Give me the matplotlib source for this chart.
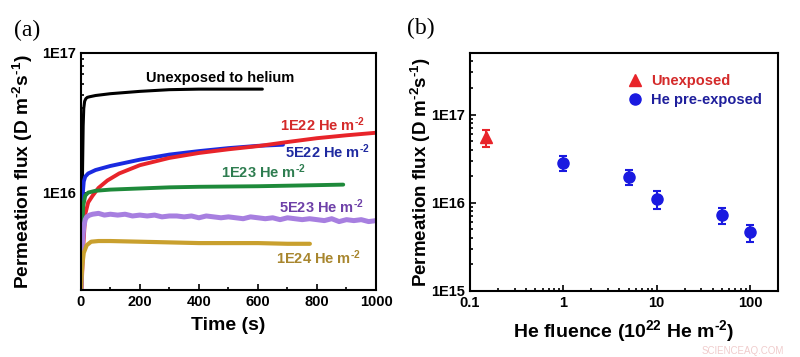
import numpy as np
import matplotlib
matplotlib.use('Agg')
import matplotlib.pyplot as plt
from matplotlib.lines import Line2D
from matplotlib.ticker import FixedLocator, FuncFormatter, MultipleLocator, LogLocator, NullFormatter

#panel (a) data, time in s, flux in units of 1E16 D m-2 s-1
t_black = [0, 4, 6, 8, 10, 13, 17, 22, 30, 50, 100, 200, 300, 400, 500, 615]
f_black = [0.15, 0.6, 1.5, 3.0, 4.0, 4.5, 4.7, 4.8, 4.85, 4.95, 5.1, 5.3, 5.45, 5.5, 5.5, 5.5]

t_red = [0, 8, 15, 25, 40, 60, 90, 130, 200, 300, 400, 500, 600, 700, 800, 900, 1000]
f_red = [0.15, 0.4, 0.7, 0.85, 0.95, 1.08, 1.22, 1.37, 1.57, 1.77, 1.92, 2.04, 2.15, 2.3, 2.45, 2.57, 2.68]

t_blue = [0, 4, 7, 10, 15, 25, 50, 100, 200, 300, 400, 500, 600, 685]
f_blue = [0.15, 0.5, 1.0, 1.2, 1.3, 1.37, 1.45, 1.55, 1.72, 1.87, 1.98, 2.08, 2.16, 2.2]

t_green = [0, 4, 8, 15, 25, 50, 100, 200, 300, 400, 600, 800, 889]
f_green = [0.15, 0.5, 0.8, 0.95, 1.0, 1.03, 1.05, 1.07, 1.09, 1.1, 1.11, 1.13, 1.14]

t_purple = [0, 3, 6, 10, 15, 20, 30, 40, 60, 80, 100, 125, 150, 175, 200, 225, 250, 275, 300, 325,
            350, 375, 400, 425, 450, 475, 500, 525, 550, 575, 600, 625, 650, 675, 700, 725, 750, 775,
            800, 825, 850, 875, 900, 925, 950, 975, 1000]
f_purple = [0.2, 0.3, 0.45, 0.57, 0.64, 0.67, 0.69, 0.70, 0.71, 0.69, 0.70, 0.69, 0.70, 0.68, 0.69, 0.68,
            0.69, 0.67, 0.68, 0.68, 0.67, 0.68, 0.66, 0.68, 0.67, 0.66, 0.67, 0.66, 0.65, 0.67, 0.66, 0.65,
            0.66, 0.64, 0.66, 0.65, 0.64, 0.65, 0.64, 0.63, 0.65, 0.62, 0.64, 0.63, 0.64, 0.62, 0.63]

t_gold = [0, 5, 10, 20, 35, 60, 100, 200, 300, 400, 500, 600, 700, 776]
f_gold = [0.2, 0.3, 0.37, 0.42, 0.445, 0.45, 0.45, 0.445, 0.44, 0.435, 0.435, 0.435, 0.43, 0.43]

#panel (b) data, fluence in 1E22 He m-2
x_unexp = [0.15]
y_unexp = [5.5e16]
e_unexp = [1.2e16]
x_pre = [1, 5, 10, 50, 100]
y_pre = [2.85e16, 1.97e16, 1.11e16, 7.3e15, 4.6e15]
e_pre = [0.55e16, 0.4e16, 0.25e16, 1.5e15, 1.0e15]

plt.rcParams['font.family'] = 'Liberation Sans'
plt.rcParams['font.weight'] = 'bold'
plt.rcParams['mathtext.fontset'] = 'custom'
plt.rcParams['mathtext.rm'] = 'Liberation Sans:bold'
plt.rcParams['mathtext.bf'] = 'Liberation Sans:bold'
plt.rcParams['mathtext.default'] = 'bf'

fig = plt.figure(figsize=(8, 3.57), dpi=100)
ax1 = fig.add_axes([0.101, 0.187, 0.369, 0.665])
ax2 = fig.add_axes([0.5875, 0.185, 0.385, 0.667])

ylab = 'Permeation flux (D m$^{\\text{-2}}$s$^{\\text{-1}}$)'
unit = ' He m$^{\\text{-2}}$'

#curves
curves = [(t_black, f_black, 'black', 2.2),
          (t_blue, f_blue, '#1a2ae0', 2.8),
          (t_red, f_red, '#e8242a', 2.8),
          (t_green, f_green, '#1e8a3a', 2.8),
          (t_purple, f_purple, '#a77fe0', 3.6),
          (t_gold, f_gold, '#c9a02e', 3.0)]
for t, f, c, lw in curves:
    ax1.plot(t, np.array(f) * 1e16, color=c, lw=lw, solid_capstyle='round')

ax1.set_yscale('log')
ax1.set_xlim(0, 1000)
ax1.set_ylim(2.0e15, 1e17)
ax1.xaxis.set_major_locator(MultipleLocator(200))
ax1.xaxis.set_minor_locator(MultipleLocator(100))
ax1.yaxis.set_major_locator(FixedLocator([1e16, 1e17]))
ax1.yaxis.set_major_formatter(FuncFormatter(lambda v, p: '1E%d' % round(np.log10(v))))
ax1.yaxis.set_minor_locator(LogLocator(base=10, subs=np.arange(2, 10)))
ax1.yaxis.set_minor_formatter(NullFormatter())
ax1.set_xlabel('Time (s)', fontsize=14, fontweight='bold', labelpad=6)
ax1.set_ylabel(ylab, fontsize=13.8, fontweight='bold')
ax1.yaxis.set_label_coords(-0.155, 0.5)

#curve labels
ax1.text(471, 6.63e16, 'Unexposed to helium', ha='center', va='center', fontsize=10.5, fontweight='bold', color='black')
labs = [(817, 3.06e16, '1E22', '#d42a2a'),
        (834, 1.96e16, '5E22', '#1f2aa0'),
        (620, 1.41e16, '1E23', '#2e7d50'),
        (816, 7.94e15, '5E23', '#6e40a8'),
        (805, 3.4e15, '1E24', '#a8862e')]
for x, y, s, c in labs:
    ax1.text(x, y, s + unit, ha='center', va='center', fontsize=10.5, fontweight='bold', color=c)

#panel b
ax2.errorbar(x_unexp, y_unexp, yerr=e_unexp, fmt='^', color='#e8242a', ms=8, capsize=3, elinewidth=1.5, capthick=1.5)
ax2.errorbar(x_pre, y_pre, yerr=e_pre, fmt='o', color='#1a1ae0', ms=8, capsize=3, elinewidth=1.5, capthick=1.5)
ax2.set_xscale('log')
ax2.set_yscale('log')
ax2.set_xlim(0.1, 200)
ax2.set_ylim(1e15, 5e17)
ax2.xaxis.set_major_locator(FixedLocator([0.1, 1, 10, 100]))
ax2.xaxis.set_major_formatter(FuncFormatter(lambda v, p: '%g' % v))
ax2.xaxis.set_minor_locator(LogLocator(base=10, subs=np.arange(2, 10)))
ax2.xaxis.set_minor_formatter(NullFormatter())
ax2.yaxis.set_major_locator(FixedLocator([1e15, 1e16, 1e17]))
ax2.yaxis.set_major_formatter(FuncFormatter(lambda v, p: '1E%d' % round(np.log10(v))))
ax2.yaxis.set_minor_locator(LogLocator(base=10, subs=np.arange(2, 10)))
ax2.yaxis.set_minor_formatter(NullFormatter())
ax2.set_xlabel('He fluence (10$^{\\text{22}}$ He m$^{\\text{-2}}$)', fontsize=14, fontweight='bold', labelpad=6)
ax2.set_ylabel(ylab, fontsize=13.5, fontweight='bold')
ax2.yaxis.set_label_coords(-0.12, 0.5)

handles = [Line2D([], [], marker='^', ls='none', color='#e8242a', ms=8),
           Line2D([], [], marker='o', ls='none', color='#1a1ae0', ms=8)]
ax2.legend(handles, ['Unexposed', 'He pre-exposed'], loc='upper left', bbox_to_anchor=(0.47, 0.965),
           frameon=False, handlelength=1.0, handletextpad=0.6, labelspacing=0.35,
           prop={'weight': 'bold', 'size': 10.5}, labelcolor=['#d42a2a', '#1f1f9c'])

for ax in [ax1, ax2]:
    for s in ax.spines.values():
        s.set_linewidth(1.5)
    ax.tick_params(which='both', direction='in', labelsize=10.5, width=1.2)
    ax.tick_params(which='major', length=4)
    ax.tick_params(which='minor', length=2.5)
    for lab in ax.get_xticklabels() + ax.get_yticklabels():
        lab.set_fontweight('bold')

fig.text(0.018, 0.916, '(a)', family='Liberation Serif', fontsize=17, fontweight='normal', va='center')
fig.text(0.509, 0.92, '(b)', family='Liberation Serif', fontsize=17, fontweight='normal', va='center')
fig.text(0.98, 0.018, 'SCIENCEAQ.COM', fontsize=7, fontweight='normal', color='#f0cccc', ha='right', va='center')

fig.savefig('out.png', dpi=100)
